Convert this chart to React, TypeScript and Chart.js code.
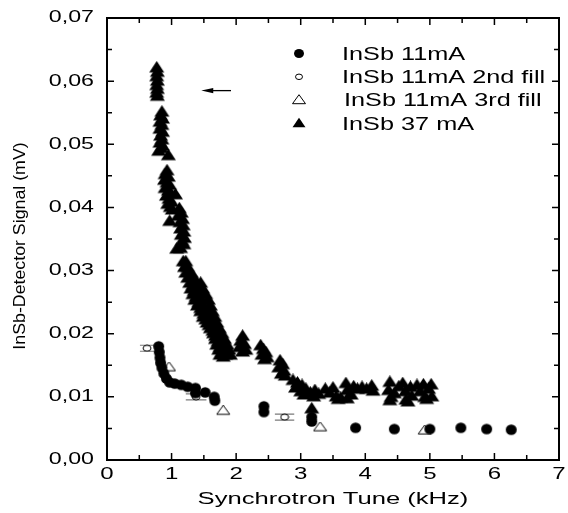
import React, { useEffect, useRef } from "react";
import { Chart, registerables } from "chart.js";

Chart.register(...registerables);

// ---------- data ----------
const LABEL_11 = "InSb 11mA";
const LABEL_11_2 = "InSb 11mA 2nd fill";
const LABEL_11_3 = "InSb 11mA 3rd fill";
const LABEL_37 = "InSb 37 mA";

const fill11X = [0.80, 0.81, 0.82, 0.83, 0.85, 0.88, 0.92, 0.97, 1.05, 1.15, 1.25, 1.37, 1.37, 1.52, 1.66, 1.67, 2.43, 2.43, 3.17, 3.17, 3.85, 4.45, 5.00, 5.48, 5.88, 6.26];
const fill11Y = [0.0180, 0.0171, 0.0162, 0.0154, 0.0146, 0.0137, 0.0129, 0.0123, 0.0121, 0.0119, 0.0116, 0.0114, 0.0106, 0.0107, 0.0100, 0.0094, 0.0085, 0.0076, 0.0068, 0.0061, 0.0051, 0.0049, 0.0049, 0.0051, 0.0049, 0.0048];

const fill2X = [0.62, 1.38, 2.75];
const fill2Y = [0.0177, 0.0100, 0.0068];
const fill2XErr = [0.11, 0.16, 0.15];

const fill3X = [0.96, 1.80, 3.30, 4.92];
const fill3Y = [0.0147, 0.0078, 0.0052, 0.0047];

const ma37X = [
  0.77, 0.78, 0.77, 0.78, 0.77, 0.78, 0.77, 0.78,
  0.85, 0.83, 0.86, 0.82, 0.85, 0.82, 0.86, 0.83, 0.85, 0.82, 0.86, 0.80, 0.84, 0.95,
  0.93, 0.90, 0.95, 0.89, 0.93, 0.97, 0.90, 0.95, 0.99, 0.92, 1.06, 0.96, 1.00, 0.94, 0.98, 1.01, 0.97,
  1.12, 1.15, 1.10, 1.17, 1.13, 1.18, 1.14, 1.19, 1.15, 1.20, 1.16, 1.19, 1.08, 1.14,
  1.18, 1.22, 1.20, 1.25, 1.22, 1.30, 1.25, 1.35, 1.30,
  1.28, 1.38, 1.45, 1.33, 1.30, 1.40, 1.48, 1.35, 1.33, 1.43, 1.53, 1.38, 1.36, 1.47, 1.57, 1.42,
  1.40, 1.50, 1.60, 1.45, 1.45, 1.55, 1.63, 1.50, 1.49, 1.58, 1.67, 1.53, 1.55, 1.62, 1.70, 1.58,
  1.60, 1.68, 1.74, 1.64, 1.65, 1.72, 1.78, 1.68, 1.68, 1.76, 1.82, 1.72, 1.70, 1.79, 1.86, 1.75,
  1.73, 1.82, 1.89, 1.78, 1.75, 1.84, 1.91, 1.80,
  2.10, 2.07, 2.13, 2.05, 2.15, 2.10,
  2.38, 2.42, 2.46, 2.40, 2.48, 2.44,
  2.68, 2.72, 2.66, 2.74, 2.70, 2.76,
  2.88, 2.95, 3.02, 2.92, 3.08, 3.00, 3.15, 3.05, 3.22, 3.28, 3.17, 3.20,
  3.38, 3.45, 3.50, 3.55, 3.62, 3.70, 3.72, 3.78, 3.82, 3.88, 3.95, 4.02, 4.10, 4.12, 3.58, 3.72,
  4.36, 4.38, 4.40, 4.45, 4.52, 4.58, 4.62, 4.63, 4.70, 4.72, 4.80, 4.85, 4.90, 4.92, 4.98, 5.02, 5.03, 4.38, 4.66, 4.95,
];
const ma37Y = [
  0.0621, 0.0614, 0.0607, 0.0600, 0.0593, 0.0587, 0.0581, 0.0576,
  0.0551, 0.0545, 0.0540, 0.0535, 0.0530, 0.0524, 0.0519, 0.0513, 0.0507, 0.0502, 0.0497, 0.0489, 0.0493, 0.0482,
  0.0458, 0.0452, 0.0448, 0.0443, 0.0439, 0.0435, 0.0430, 0.0426, 0.0422, 0.0418, 0.0420, 0.0413, 0.0408, 0.0405, 0.0400, 0.0396, 0.0378,
  0.0398, 0.0391, 0.0386, 0.0381, 0.0376, 0.0371, 0.0366, 0.0361, 0.0356, 0.0351, 0.0346, 0.0341, 0.0334, 0.0335,
  0.0314, 0.0314, 0.0305, 0.0305, 0.0296, 0.0296, 0.0288, 0.0288, 0.0292,
  0.0280, 0.0280, 0.0280, 0.0276, 0.0271, 0.0271, 0.0271, 0.0267, 0.0262, 0.0262, 0.0262, 0.0258, 0.0253, 0.0253, 0.0253, 0.0249,
  0.0244, 0.0244, 0.0244, 0.0240, 0.0235, 0.0235, 0.0235, 0.0231, 0.0226, 0.0226, 0.0226, 0.0222, 0.0217, 0.0217, 0.0217, 0.0213,
  0.0208, 0.0208, 0.0208, 0.0204, 0.0200, 0.0200, 0.0200, 0.0196, 0.0191, 0.0191, 0.0191, 0.0187, 0.0182, 0.0182, 0.0182, 0.0178,
  0.0174, 0.0174, 0.0174, 0.0170, 0.0166, 0.0166, 0.0166, 0.0163,
  0.0196, 0.0188, 0.0183, 0.0178, 0.0174, 0.0171,
  0.0181, 0.0175, 0.0170, 0.0166, 0.0162, 0.0159,
  0.0157, 0.0151, 0.0146, 0.0141, 0.0136, 0.0133,
  0.0126, 0.0122, 0.0118, 0.0114, 0.0112, 0.0108, 0.0106, 0.0103, 0.0110, 0.0104, 0.0081, 0.0100,
  0.0112, 0.0106, 0.0114, 0.0100, 0.0098, 0.0121, 0.0110, 0.0103, 0.0116, 0.0112, 0.0115, 0.0112, 0.0117, 0.0109, 0.0096, 0.0097,
  0.0110, 0.0123, 0.0099, 0.0105, 0.0116, 0.0121, 0.0108, 0.0095, 0.0115, 0.0101, 0.0118, 0.0108, 0.0119, 0.0099, 0.0112, 0.0119, 0.0100, 0.0094, 0.0092, 0.0096,
];

const xMajor = [0, 1, 2, 3, 4, 5, 6, 7];
const xMinor = [0.5, 1.5, 2.5, 3.5, 4.5, 5.5, 6.5];
const yMajor = [0, 0.01, 0.02, 0.03, 0.04, 0.05, 0.06, 0.07];
const yMinor = [0.005, 0.015, 0.025, 0.035, 0.045, 0.055, 0.065];
const xTickLabels = ["0", "1", "2", "3", "4", "5", "6", "7"];
const yTickLabels = ["0,00", "0,01", "0,02", "0,03", "0,04", "0,05", "0,06", "0,07"];

const X_TITLE = "Synchrotron Tune (kHz)";
const Y_TITLE = "InSb-Detector Signal (mV)";

// arrow annotation (data units): from -> to
const arrowFrom = [1.92, 0.0585];
const arrowTo = [1.46, 0.0585];

const FONT = "'Liberation Sans', Arial, Helvetica, sans-serif";

function pts(xs: number[], ys: number[]) {
  return xs.map((x, i) => ({ x, y: ys[i] }));
}

function sText(ctx: CanvasRenderingContext2D, text: string, x: number, y: number, size: number, sx: number, align: CanvasTextAlign, baseline: CanvasTextBaseline) {
  ctx.save();
  ctx.font = `${size}px ${FONT}`;
  ctx.textAlign = align;
  ctx.textBaseline = baseline;
  ctx.fillStyle = "#000";
  ctx.translate(x, y);
  ctx.scale(sx, 1);
  ctx.fillText(text, 0, 0);
  ctx.restore();
}

// marker shapes: stretched horizontally like the reference
function shapePath(ctx: CanvasRenderingContext2D, style: string, cx: number, cy: number, w: number, h: number) {
  ctx.beginPath();
  if (style === "circle") {
    ctx.ellipse(cx, cy, w / 2, h / 2, 0, 0, Math.PI * 2);
  } else {
    ctx.moveTo(cx, cy - h * 0.6);
    ctx.lineTo(cx + w / 2, cy + h * 0.4);
    ctx.lineTo(cx - w / 2, cy + h * 0.4);
  }
  ctx.closePath();
}

function drawMarker(ctx: CanvasRenderingContext2D, style: string, cx: number, cy: number, w: number, h: number, filled: boolean) {
  ctx.save();
  shapePath(ctx, style, cx, cy, w, h);
  ctx.fillStyle = filled ? "#000" : "#fff";
  ctx.fill();
  if (!filled) {
    ctx.lineWidth = 1;
    ctx.strokeStyle = "#000";
    ctx.stroke();
  }
  ctx.restore();
}

function makeImg(style: string, w: number, h: number, filled: boolean) {
  const c = document.createElement("canvas");
  c.width = Math.ceil(w + 2);
  c.height = Math.ceil(h + 2);
  const ctx = c.getContext("2d") as CanvasRenderingContext2D;
  drawMarker(ctx, style, c.width / 2, c.height / 2, w, h, filled);
  return c;
}

const SIZES: Record<string, [string, number, number, boolean]> = {
  m11: ["circle", 11, 10.5, true],
  m2: ["circle", 8, 6, false],
  m3: ["triangle", 13, 9, false],
  m37: ["triangle", 15, 11.5, true],
};

const decorPlugin = {
  id: "decor",
  beforeDatasetsDraw(chart: any) {
    const ctx: CanvasRenderingContext2D = chart.ctx;
    const xs = chart.scales.x;
    const ys = chart.scales.y;
    ctx.save();
    ctx.strokeStyle = "#7a7a7a";
    ctx.lineWidth = 1.2;
    fill2X.forEach((x, i) => {
      const py = ys.getPixelForValue(fill2Y[i]);
      const x1 = xs.getPixelForValue(x - fill2XErr[i]);
      const x2 = xs.getPixelForValue(x + fill2XErr[i]);
      ctx.beginPath();
      ctx.moveTo(x1, py - 3);
      ctx.lineTo(x2, py - 3);
      ctx.moveTo(x1, py + 3);
      ctx.lineTo(x2, py + 3);
      ctx.stroke();
    });
    ctx.restore();
  },
  afterDraw(chart: any) {
    const ctx: CanvasRenderingContext2D = chart.ctx;
    const xs = chart.scales.x;
    const ys = chart.scales.y;
    const a = chart.chartArea;
    ctx.save();
    ctx.strokeStyle = "#000";
    ctx.lineWidth = 2;
    ctx.strokeRect(a.left, a.top, a.right - a.left, a.bottom - a.top);
    ctx.lineWidth = 1.5;
    ctx.beginPath();
    const tick = (vals: number[], len: number) => {
      vals.forEach((v) => {
        const px = xs.getPixelForValue(v);
        ctx.moveTo(px, a.bottom);
        ctx.lineTo(px, a.bottom - len);
        ctx.moveTo(px, a.top);
        ctx.lineTo(px, a.top + len);
      });
    };
    const tickY = (vals: number[], len: number) => {
      vals.forEach((v) => {
        const py = ys.getPixelForValue(v);
        ctx.moveTo(a.left, py);
        ctx.lineTo(a.left + len, py);
        ctx.moveTo(a.right, py);
        ctx.lineTo(a.right - len, py);
      });
    };
    tick(xMajor, 7);
    tick(xMinor, 5);
    tickY(yMajor, 7);
    tickY(yMinor, 5);
    ctx.stroke();
    ctx.restore();

    xMajor.forEach((v, i) => sText(ctx, xTickLabels[i], xs.getPixelForValue(v), 475, 16, 1.5, "center", "middle"));
    yMajor.forEach((v, i) => sText(ctx, yTickLabels[i], 94, ys.getPixelForValue(v), 16, 1.45, "right", "middle"));

    sText(ctx, X_TITLE, (a.left + a.right) / 2, 500, 16, 1.6, "center", "middle");
    ctx.save();
    ctx.font = `16px ${FONT}`;
    ctx.fillStyle = "#000";
    ctx.textAlign = "center";
    ctx.textBaseline = "middle";
    ctx.translate(21, (a.top + a.bottom) / 2 + 7);
    ctx.rotate(-Math.PI / 2);
    ctx.scale(1.11, 1);
    ctx.fillText(Y_TITLE, 0, 0);
    ctx.restore();

    const rows = [
      { label: LABEL_11, key: "m11", dx: 0, w: 10, h: 9 },
      { label: LABEL_11_2, key: "m2", dx: 0, w: 7, h: 5.5 },
      { label: LABEL_11_3, key: "m3", dx: 2, w: 13, h: 9 },
      { label: LABEL_37, key: "m37", dx: 0, w: 13, h: 9.5 },
    ];
    rows.forEach((row, i) => {
      const y = 53.5 + i * 23.3;
      const s = SIZES[row.key];
      drawMarker(ctx, s[0], 299, y, row.w, row.h, s[3]);
      sText(ctx, row.label, 342 + row.dx, y + 1, 19, 1.33, "left", "middle");
    });

    const ax1 = xs.getPixelForValue(arrowFrom[0]);
    const ay1 = ys.getPixelForValue(arrowFrom[1]);
    const ax2 = xs.getPixelForValue(arrowTo[0]);
    const ay2 = ys.getPixelForValue(arrowTo[1]);
    ctx.save();
    ctx.strokeStyle = "#000";
    ctx.fillStyle = "#000";
    ctx.lineWidth = 1.3;
    ctx.beginPath();
    ctx.moveTo(ax1, ay1);
    ctx.lineTo(ax2 + 8, ay2);
    ctx.stroke();
    ctx.beginPath();
    ctx.moveTo(ax2, ay2);
    ctx.lineTo(ax2 + 12, ay2 - 2.6);
    ctx.lineTo(ax2 + 12, ay2 + 2.6);
    ctx.closePath();
    ctx.fill();
    ctx.restore();
  },
};

export default function App() {
  const ref = useRef<HTMLCanvasElement | null>(null);
  useEffect(() => {
    if (!ref.current) return;
    const img = (k: string) => makeImg(SIZES[k][0], SIZES[k][1], SIZES[k][2], SIZES[k][3]);
    const chart = new Chart(ref.current, {
      type: "scatter",
      data: {
        datasets: [
          { label: LABEL_11, data: pts(fill11X, fill11Y), pointStyle: img("m11"), pointRadius: 6 },
          { label: LABEL_11_2, data: pts(fill2X, fill2Y), pointStyle: img("m2"), pointRadius: 4 },
          { label: LABEL_11_3, data: pts(fill3X, fill3Y), pointStyle: img("m3"), pointRadius: 7 },
          { label: LABEL_37, data: pts(ma37X, ma37Y), pointStyle: img("m37"), pointRadius: 8 },
        ],
      },
      options: {
        responsive: false,
        animation: false,
        devicePixelRatio: 1,
        layout: { padding: { top: 18, right: 6, left: 0, bottom: 0 } },
        plugins: { legend: { display: false }, tooltip: { enabled: false } },
        scales: {
          x: {
            type: "linear",
            min: 0,
            max: 7,
            grid: { display: false },
            border: { display: false },
            ticks: { display: false },
            afterFit: (s: any) => { s.height = 53; },
          },
          y: {
            type: "linear",
            min: 0,
            max: 0.07,
            grid: { display: false },
            border: { display: false },
            ticks: { display: false },
            afterFit: (s: any) => { s.width = 107; },
          },
        },
      } as any,
      plugins: [decorPlugin],
    });
    return () => chart.destroy();
  }, []);
  return (
    <div style={{ position: "fixed", left: 0, top: 0, width: 568, height: 513, background: "#fff" }}>
      <canvas ref={ref} width={568} height={513} style={{ display: "block" }} />
    </div>
  );
}
